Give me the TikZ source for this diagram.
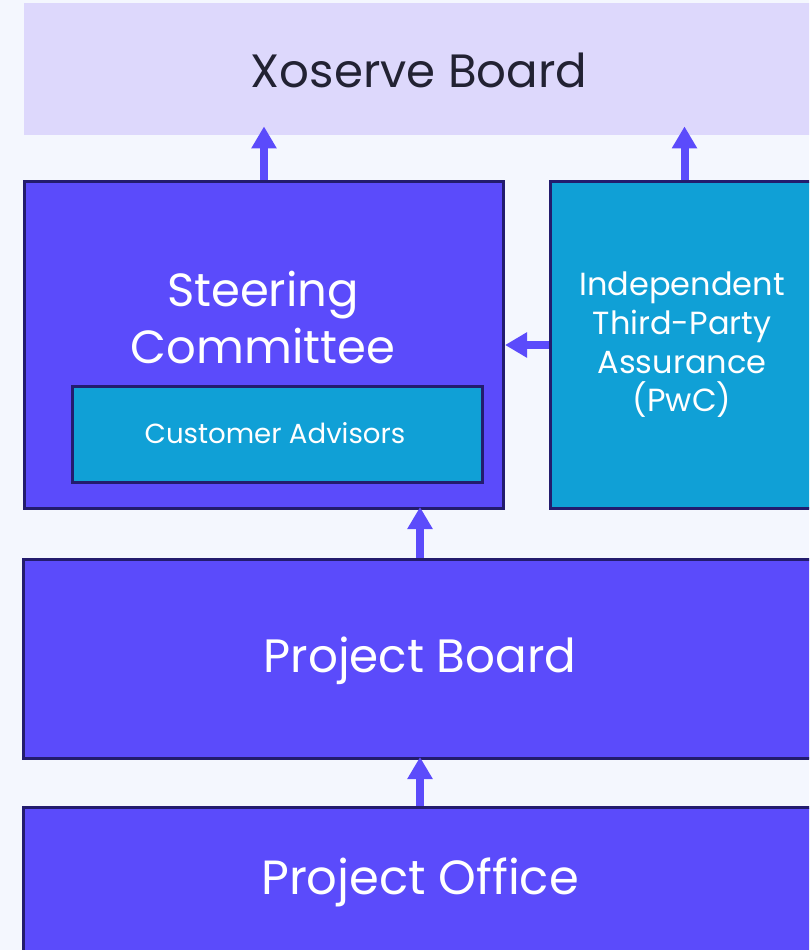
\documentclass[tikz,border=0pt]{standalone}
\usepackage{fontspec}
\setmainfont{Poppins}
\usetikzlibrary{arrows.meta}
\definecolor{bgc}{HTML}{F4F7FE}
\definecolor{xbc}{HTML}{DDD8FC}
\definecolor{violetc}{HTML}{5B4BFB}
\definecolor{cyanc}{HTML}{10A0D6}
\definecolor{edgec}{HTML}{231C6E}
\definecolor{txtc}{HTML}{222233}
\tikzset{
  box/.style={draw=edgec, line width=3pt, rectangle, inner sep=0pt, anchor=north west},
  vbox/.style={box, fill=violetc},
  cbox/.style={box, fill=cyanc},
  wtext/.style={text=white, align=center, inner sep=0pt},
  arr/.style={draw=violetc, line width=8pt, -{Triangle[width=24pt,length=22pt]}},
}
\begin{document}
\begin{tikzpicture}[x=1pt,y=-1pt]
\useasboundingbox (0,0) rectangle (809,950);
\clip (0,0) rectangle (809,950);
\fill[bgc] (0,0) rectangle (809,950);
\node[rectangle, fill=xbc, anchor=north west, minimum width=790pt, minimum height=132pt, inner sep=0pt] (xb) at (24,3) {};
\node[inner sep=0pt, font=\fontsize{46.7}{52}\selectfont, text=txtc] (xbt) at (419,70) {Xoserve Board};
\node[vbox, minimum width=479pt, minimum height=327pt] (sc) at (23,180) {};
\node[wtext, font=\fontsize{46.5}{57}\selectfont] (sct) at (263,318) {Steering\\Committee};
\node[cbox, minimum width=410pt, minimum height=96pt] (ca) at (71,385) {};
\node[wtext, font=\fontsize{27.6}{32}\selectfont] (cat) at (275,433) {Customer Advisors};
\node[cbox, minimum width=268pt, minimum height=327pt] (ind) at (549,180) {};
\node[wtext, font=\fontsize{32}{38.7}\selectfont] (indt) at (682,345) {Independent\\Third-Party\\Assurance\\(PwC)};
\node[vbox, minimum width=795pt, minimum height=199pt] (pb) at (22,558) {};
\node[wtext, font=\fontsize{46.8}{52}\selectfont] (pbt) at (420,661) {Project Board};
\node[vbox, minimum width=795pt, minimum height=160pt] (po) at (22,806) {};
\node[wtext, font=\fontsize{48}{52}\selectfont] (pot) at (420,882) {Project Office};
\draw[arr, shorten >=-9pt] (sc.north) -- (sc.north |- xb.south);
\draw[arr, shorten >=-9pt] (ind.north) -- (ind.north |- xb.south);
\draw[arr] (ind.west |- 0,345) -- (sc.east |- 0,345);
\draw[arr] (420,558) -- (420,507);
\draw[arr] (420,806) -- (420,757);
\end{tikzpicture}
\end{document}
